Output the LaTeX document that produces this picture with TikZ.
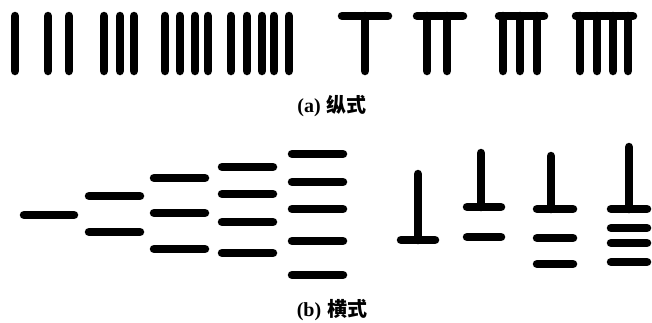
\documentclass[tikz,border=0pt]{standalone}
\usepackage{fontspec}
\setmainfont{Liberation Serif}
\newfontfamily\cjk{Noto Sans CJK SC}
\usepackage{tikz}

\tikzset{
  rod/.style={line width=8.5pt, line cap=round},
  caption/.style={font=\fontsize{20}{22}\selectfont\bfseries, inner sep=0pt}
}

\begin{document}
\begin{tikzpicture}[x=1pt, y=-1pt]
  \useasboundingbox (0,0) rectangle (652,322);

  % (a) vertical rods, 1--5
  \foreach \x in {15, 48, 69, 104, 120, 134, 165, 180, 195, 208, 231, 247, 262, 274, 289}
    \draw[rod] (\x,16) -- (\x,71);

  % (a) 6--9: top bar plus rods
  \foreach \l/\r in {342/388, 417/463, 499/544, 576/633}
    \draw[rod] (\l,16) -- (\r,16);
  \foreach \x in {365, 427, 447, 503, 520, 537, 580, 597, 613, 628}
    \draw[rod] (\x,16) -- (\x,71);

  \node[caption] (capa) at (332,106) {(a)\hspace{6pt}{\cjk 纵式}};

  % (b) horizontal rods, 1--5
  \foreach \l/\r/\ys in {24/74/{215},
                         89/140/{196,232},
                         154/205/{178,213,249},
                         222/273/{167,194,222,253},
                         292/343/{154,182,209,241,275}}
    \foreach \y in \ys
      \draw[rod] (\l,\y) -- (\r,\y);

  % (b) 6--9: upright rod on top of the bars
  \foreach \x/\t/\b in {418/174/240, 481/153/207, 551/156/209, 629/147/209}
    \draw[rod] (\x,\t) -- (\x,\b);
  \foreach \l/\r/\ys in {401/435/{240},
                         467/501/{207,237},
                         537/573/{209,238,264},
                         611/647/{209,228,243,262}}
    \foreach \y in \ys
      \draw[rod] (\l,\y) -- (\r,\y);

  \node[caption] (capb) at (332,310) {(b)\hspace{6pt}{\cjk 横式}};
\end{tikzpicture}
\end{document}
